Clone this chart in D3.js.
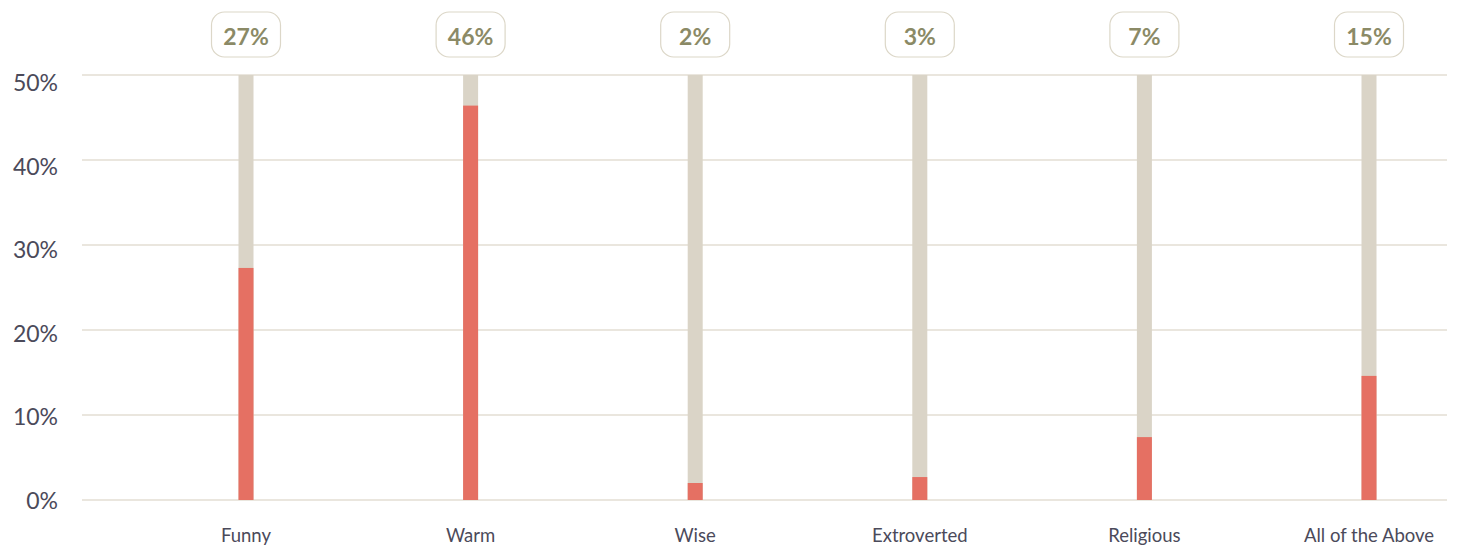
<!DOCTYPE html>
<html>
<head>
<meta charset="utf-8">
<script src="https://cdn.jsdelivr.net/npm/d3@7"></script>
<style>
  html, body { margin: 0; padding: 0; background: #ffffff; }
  svg { display: block; font-family: Lato, "Open Sans", sans-serif; }
</style>
</head>
<body>
<svg id="chart" width="1460" height="545"></svg>
<script>
const categories = ["Funny", "Warm", "Wise", "Extroverted", "Religious", "All of the Above"];
const values = [27.3, 46.4, 2.0, 2.7, 7.4, 14.6];
const valueLabels = ["27%", "46%", "2%", "3%", "7%", "15%"];
const yTicks = [0, 10, 20, 30, 40, 50];
const yMax = 50;

const svg = d3.select("#chart");
const plotLeft = 82, plotRight = 1447, plotTop = 75, plotBottom = 500;

const x = d3.scalePoint().domain(categories).range([246, 1369]);
const y = d3.scaleLinear().domain([0, yMax]).range([plotBottom, plotTop]);
const yLabel = d3.scaleLinear().domain([0, yMax]).range([plotBottom, 82]);

// gridlines
svg.append("g").selectAll("line").data(yTicks).join("line")
  .attr("x1", plotLeft).attr("x2", plotRight)
  .attr("y1", d => y(d)).attr("y2", d => y(d))
  .attr("stroke", "#e3ded3").attr("stroke-width", 1.5);

// y labels
svg.append("g").selectAll("text").data(yTicks).join("text")
  .attr("x", 58).attr("y", d => yLabel(d))
  .attr("text-anchor", "end").attr("dominant-baseline", "central")
  .attr("font-size", 23).attr("fill", "#4b4a5a")
  .text(d => d + "%");

const bw = 15;
// background bars
svg.append("g").selectAll("rect").data(categories).join("rect")
  .attr("x", d => x(d) - bw / 2).attr("width", bw)
  .attr("y", y(yMax)).attr("height", y(0) - y(yMax))
  .attr("fill", "#dad4c7");

// value bars
svg.append("g").selectAll("rect").data(categories).join("rect")
  .attr("x", d => x(d) - bw / 2).attr("width", bw)
  .attr("y", (d, i) => y(values[i])).attr("height", (d, i) => y(0) - y(values[i]))
  .attr("fill", "#e57063");

// value label boxes
const boxW = 69, boxH = 45, boxTop = 12;
const lab = svg.append("g").selectAll("g").data(categories).join("g")
  .attr("transform", d => `translate(${x(d)},${boxTop})`);
lab.append("rect")
  .attr("x", -boxW / 2).attr("y", 0).attr("width", boxW).attr("height", boxH)
  .attr("rx", 13).attr("ry", 13)
  .attr("fill", "#ffffff").attr("stroke", "#dcd7c8").attr("stroke-width", 1.2);
lab.append("text")
  .attr("x", 0).attr("y", boxH / 2 + 1)
  .attr("text-anchor", "middle").attr("dominant-baseline", "central")
  .attr("font-size", 23).attr("font-weight", "bold").attr("fill", "#8b8a66")
  .text((d, i) => valueLabels[i]);

// x labels
svg.append("g").selectAll("text").data(categories).join("text")
  .attr("x", d => x(d)).attr("y", 542)
  .attr("text-anchor", "middle")
  .attr("font-size", 18.5).attr("fill", "#4b4a5a")
  .text(d => d);
</script>
</body>
</html>
